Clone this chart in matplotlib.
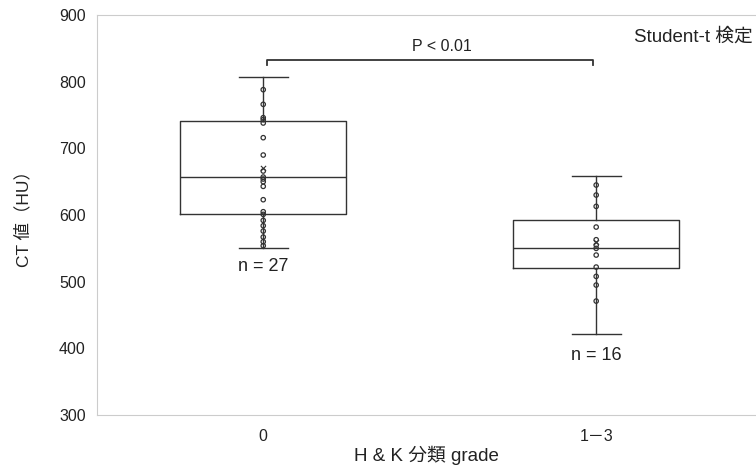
import matplotlib.pyplot as plt

plt.rcParams['font.family'] = ['Liberation Sans', 'Noto Sans CJK JP']

# box summaries (HU)
groups = ['0', '1－3']
counts = [27, 16]
whis_lo = [550, 421]
q1 = [601, 520]
median = [657, 550]
q3 = [741, 592]
whis_hi = [807, 658]
means = [670, 560]

# individual points
pts_0 = [788, 766, 746, 743, 738, 716, 690, 666, 657, 654, 650, 643, 623,
         605, 601, 592, 584, 576, 567, 560, 554]
pts_1 = [645, 630, 613, 582, 563, 555, 550, 540, 522, 508, 495, 471]

dark = '#333333'
txt = '#222222'
fig = plt.figure(figsize=(7.56, 4.68), dpi=100)
ax = fig.add_axes([0.128, 0.113, 0.872, 0.855])

stats = []
for i in range(2):
    stats.append(dict(med=median[i], q1=q1[i], q3=q3[i], whislo=whis_lo[i],
                      whishi=whis_hi[i], fliers=[]))
ax.bxp(stats, positions=[0, 1], widths=0.5, capwidths=0.147,
       showfliers=False, patch_artist=False,
       boxprops=dict(color=dark, linewidth=1.0),
       medianprops=dict(color=dark, linewidth=1.0),
       whiskerprops=dict(color=dark, linewidth=1.0),
       capprops=dict(color=dark, linewidth=1.0))

for i, pts in enumerate([pts_0, pts_1]):
    ax.scatter([i] * len(pts), pts, s=10, facecolors='none',
               edgecolors=dark, linewidths=0.9, zorder=3)
    ax.scatter([i], [means[i]], marker='x', s=14, color=dark,
               linewidths=0.8, zorder=3)

# n labels
ax.text(0, 523, f'n = {counts[0]}', ha='center', va='center', fontsize=13,
        color=txt)
ax.text(1, 390, f'n = {counts[1]}', ha='center', va='center', fontsize=13,
        color=txt)

# significance bracket
ax.plot([0.01, 0.01, 0.99, 0.99], [825, 832, 832, 825], color=dark,
        linewidth=1.3)
ax.text(0.537, 852, 'P < 0.01', ha='center', va='center', fontsize=11.5,
        color=txt)
ax.text(1.469, 867, 'Student-t 検定', ha='right', va='center',
        fontsize=13.5, color=txt)

ax.set_xlim(-0.5, 1.48)
ax.set_ylim(300, 900)
ax.set_yticks(range(300, 901, 100))
ax.set_xticks([0, 1])
ax.set_xticklabels(groups)
ax.tick_params(length=0, labelsize=11.5, colors=txt, pad=8)
ax.tick_params(axis='x', pad=10)

for s in ['left', 'top', 'bottom']:
    ax.spines[s].set_color('#cccccc')
    ax.spines[s].set_linewidth(0.8)
ax.spines['right'].set_visible(False)

ax.set_xlabel('H & K 分類 grade', fontsize=13.5, color=txt, labelpad=1)
ax.set_ylabel('CT 値（HU）', fontsize=12.5, color=txt, labelpad=20)

fig.savefig('out.png', dpi=100)
